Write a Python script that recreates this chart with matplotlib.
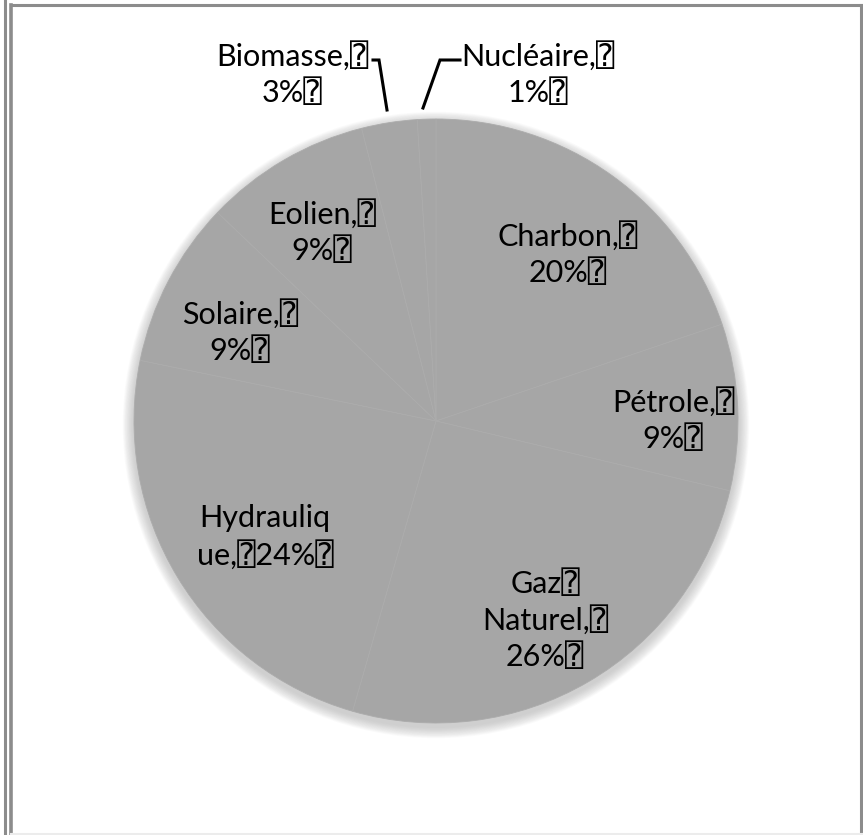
import matplotlib.pyplot as plt
from matplotlib.patches import Circle

# ---------- Données ----------
categories = ['Charbon', 'Pétrole', 'Gaz Naturel', 'Hydraulique',
              'Solaire', 'Eolien', 'Biomasse', 'Nucléaire']
parts = [20, 9, 26, 24, 9, 9, 3, 1]
labels = ['Charbon,⍰\n20%⍰', 'Pétrole,⍰\n9%⍰', 'Gaz⍰\nNaturel,⍰\n26%⍰',
          'Hydrauliq\nue,⍰24%⍰', 'Solaire,⍰\n9%⍰', 'Eolien,⍰\n9%⍰',
          'Biomasse,⍰\n3%⍰', 'Nucléaire,⍰\n1%⍰']

# ---------- Mise en page (pixels, origine en haut à gauche) ----------
W, H = 863, 835
cx, cy, R = 436, 421, 302
label_pos = [(568, 254), (673, 420), (545, 620), (265, 537),
             (240, 332), (322, 232), (292, 74), (538, 74)]

fig = plt.figure(figsize=(W / 100, H / 100), dpi=100)
ax = fig.add_axes([0, 0, 1, 1])

def py(y):
    return H - y

# ombre douce autour du camembert
for k in range(16, 0, -1):
    ax.add_patch(Circle((cx, py(cy + 4)), R + k * 0.7, color='#a6a6a6',
                        alpha=0.04, lw=0, zorder=0))

ax.pie(parts, center=(cx, py(cy)), radius=R, startangle=90, counterclock=False,
       colors=['#a6a6a6'] * len(parts),
       wedgeprops=dict(edgecolor='#acacac', linewidth=0.6))

ax.set_xlim(0, W)
ax.set_ylim(0, H)
ax.set_aspect('auto')
ax.axis('off')

fam = ['Lato', 'DejaVu Sans Mono', 'DejaVu Sans']
for lab, (x, y) in zip(labels, label_pos):
    ax.text(x, py(y), lab, ha='center', va='center', fontsize=22,
            family=fam, linespacing=1.3, color='black', zorder=5)

# lignes de rappel
ax.plot([373, 379, 387], [py(60), py(60), py(110)], color='black', lw=2.2,
        zorder=5, solid_joinstyle='miter')
ax.plot([460, 440, 423], [py(60), py(60), py(108)], color='black', lw=2.2,
        zorder=5, solid_joinstyle='miter')

# cadre
gris = '#8c8c8c'
ax.plot([4.5, 4.5], [0, H], color=gris, lw=2.2)
ax.plot([11, 11], [0, py(5)], color=gris, lw=2.6)
ax.plot([11, 862], [py(5), py(5)], color=gris, lw=2.2)
ax.plot([861, 861], [py(5), 0], color=gris, lw=2.2)
ax.plot([11, 862], [1, 1], color='#ececec', lw=1.5)

fig.savefig('out.png', dpi=100)
